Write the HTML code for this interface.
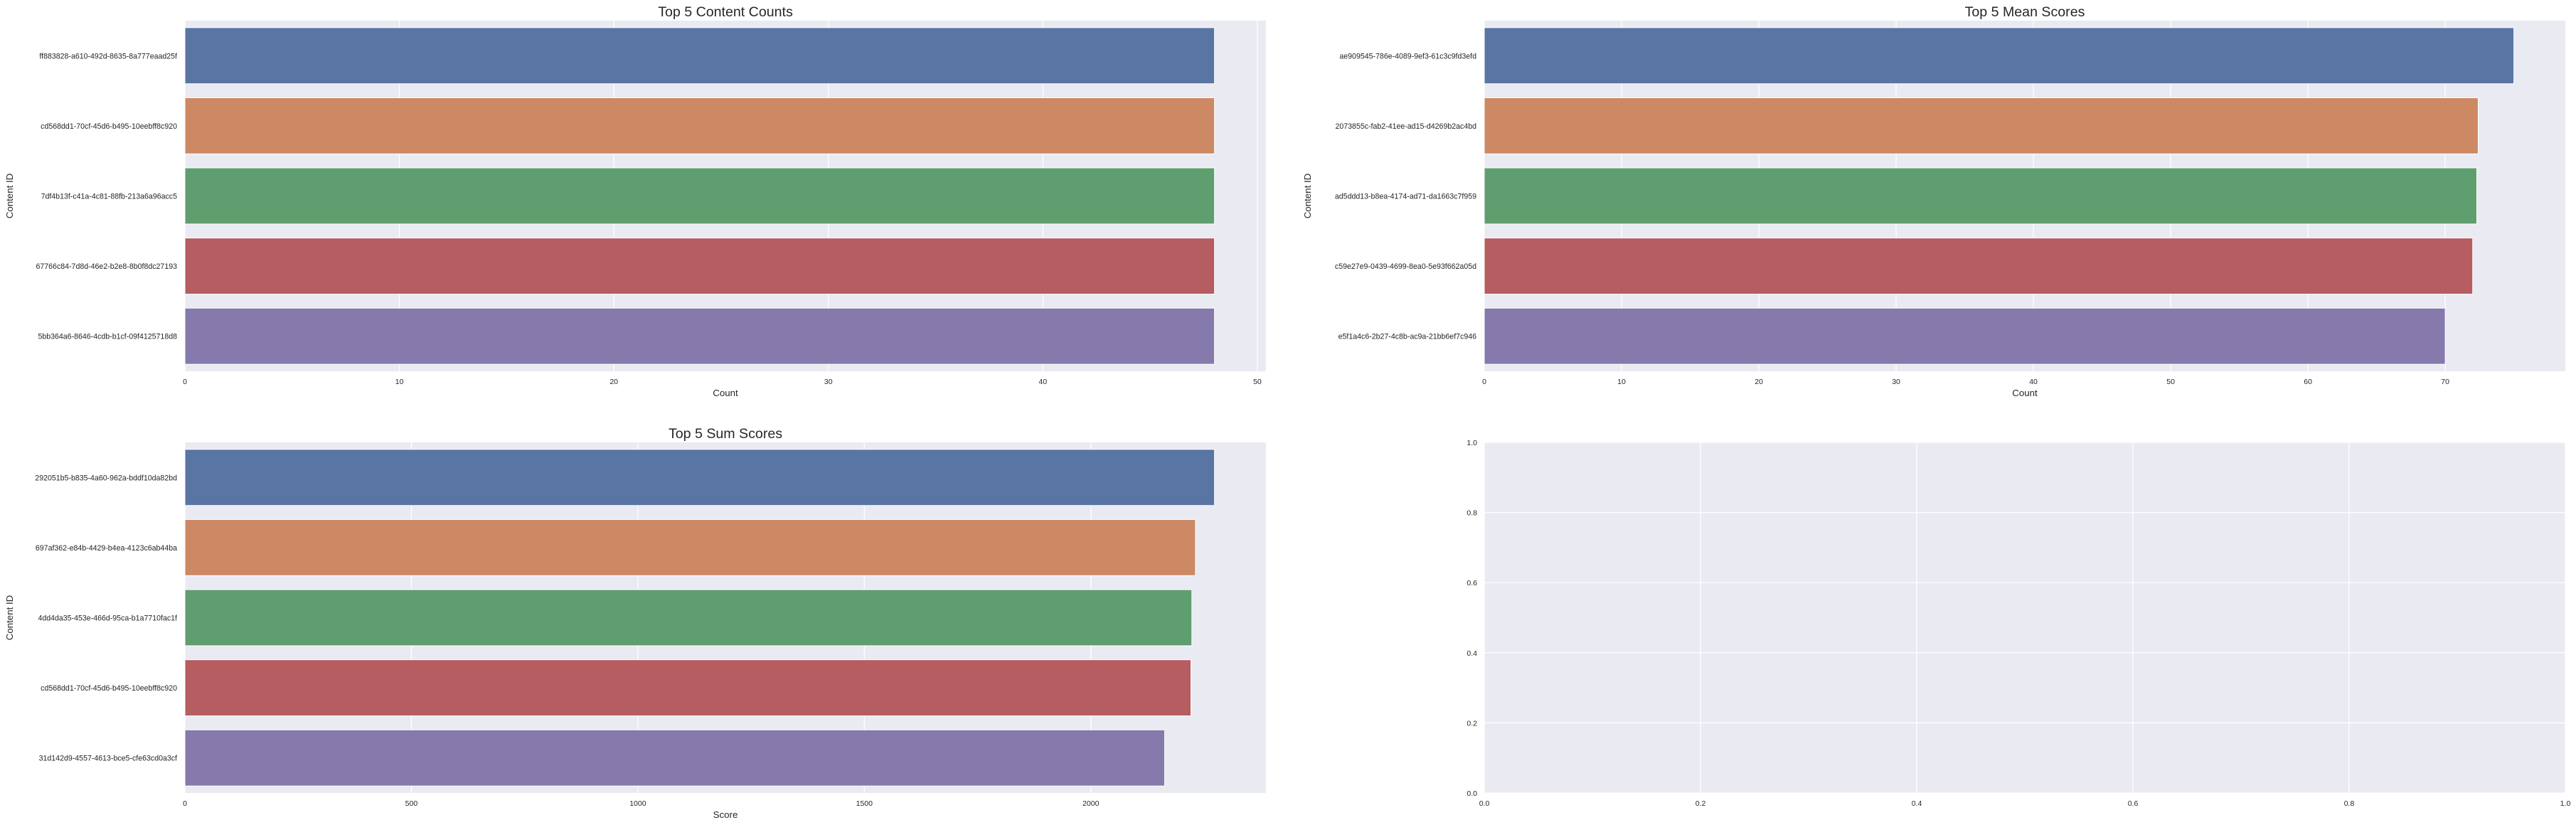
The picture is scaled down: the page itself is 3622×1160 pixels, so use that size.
<!DOCTYPE html>
<html><head><meta charset="utf-8"><style>
html,body{margin:0;padding:0;background:#fff;}
svg{display:block;font-family:"Liberation Sans",Arial,sans-serif;}
</style></head><body>
<svg id="fig" width="3622" height="1160" viewBox="0 0 3622 1160"></svg>
<script>
const countIds = ["ff883828-a610-492d-8635-8a777eaad25f","cd568dd1-70cf-45d6-b495-10eebff8c920","7df4b13f-c41a-4c81-88fb-213a6a96acc5","67766c84-7d8d-46e2-b2e8-8b0f8dc27193","5bb364a6-8646-4cdb-b1cf-09f4125718d8"];
const countValues = [48,48,48,48,48];
const countTicks = [0,10,20,30,40,50];
const meanIds = ["ae909545-786e-4089-9ef3-61c3c9fd3efd","2073855c-fab2-41ee-ad15-d4269b2ac4bd","ad5ddd13-b8ea-4174-ad71-da1663c7f959","c59e27e9-0439-4699-8ea0-5e93f662a05d","e5f1a4c6-2b27-4c8b-ac9a-21bb6ef7c946"];
const meanValues = [75.0,72.4,72.3,72.0,70.0];
const meanTicks = [0,10,20,30,40,50,60,70];
const sumIds = ["292051b5-b835-4a60-962a-bddf10da82bd","697af362-e84b-4429-b4ea-4123c6ab44ba","4dd4da35-453e-466d-95ca-b1a7710fac1f","cd568dd1-70cf-45d6-b495-10eebff8c920","31d142d9-4557-4613-bce5-cfe63cd0a3cf"];
const sumValues = [2273,2231,2223,2221,2163];
const sumTicks = [0,500,1000,1500,2000];
const emptyTicks = [0.0,0.2,0.4,0.6,0.8,1.0];
const colors = ["#5875a4","#cc8963","#5f9e6e","#b55d60","#857aab"];

const NS="http://www.w3.org/2000/svg";
const svg=document.getElementById('fig');
function mk(tag,attrs,parent){const e=document.createElementNS(NS,tag);for(const k in attrs)e.setAttribute(k,attrs[k]);(parent||svg).appendChild(e);return e;}

function barPanel(cfg){
  const g=mk('g',{});
  
  
  const {x0,x1,y0,y1}=cfg;
  const xmax=Math.max(...cfg.values)*1.05;
  const sx=v=>x0+(v/xmax)*(x1-x0);
  const band=(y1-y0)/cfg.ids.length;
  const bg=mk('rect',{x:x0,y:y0,width:x1-x0,height:y1-y0,fill:'#eaeaf2'},g);
  
  
  cfg.ticks.forEach(t=>{
    const x=sx(t);
    if(x>x1+0.5) return;
    const gl=mk('line',{x1:x,x2:x,y1:y0,y2:y1,stroke:'#fff','stroke-width':1.3},g);
    
    
    const tl=mk('text',{x:x,y:y1+18,'font-size':10.5,fill:'#262626','text-anchor':'middle'},g);
    tl.textContent=t;
    
    
  });
  cfg.ids.forEach((id,i)=>{
    const cy=y0+band*(i+0.5);
    const r=mk('rect',{x:x0,y:cy-band*0.4,width:sx(cfg.values[i])-x0,height:band*0.8,fill:colors[i],stroke:'#fff','stroke-width':1},g);
    
    
    const tl=mk('text',{x:x0-11,y:cy+4,'font-size':10.6,fill:'#262626','text-anchor':'end'},g);
    tl.textContent=id;
    
    
  });
  const t=mk('text',{x:(x0+x1)/2,y:y0-6,'font-size':19.6,fill:'#262626','text-anchor':'middle'},g);
  t.textContent=cfg.title;
  
  
  const xl=mk('text',{x:(x0+x1)/2,y:y1+35,'font-size':13.3,fill:'#262626','text-anchor':'middle'},g);
  xl.textContent=cfg.xlabel;
  
  
  const yx=cfg.ylabelX, yc=(y0+y1)/2;
  const yl=mk('text',{x:yx,y:yc,'font-size':13.3,fill:'#262626','text-anchor':'middle',transform:`rotate(-90 ${yx} ${yc})`},g);
  yl.textContent='Content ID';
  
  
}

barPanel({name:'content-counts-chart',title:'Top 5 Content Counts',xlabel:'Count',ids:countIds,values:countValues,ticks:countTicks,x0:260,x1:1780,y0:29,y1:522,ylabelX:18});
barPanel({name:'mean-scores-chart',title:'Top 5 Mean Scores',xlabel:'Count',ids:meanIds,values:meanValues,ticks:meanTicks,x0:2087,x1:3607,y0:29,y1:522,ylabelX:1843});
barPanel({name:'sum-scores-chart',title:'Top 5 Sum Scores',xlabel:'Score',ids:sumIds,values:sumValues,ticks:sumTicks,x0:260,x1:1780,y0:622,y1:1115,ylabelX:18});

(function(){
  const g=mk('g',{});
  
  
  const x0=2087,x1=3607,y0=622,y1=1115;
  const bg=mk('rect',{x:x0,y:y0,width:x1-x0,height:y1-y0,fill:'#eaeaf2'},g);
  
  
  emptyTicks.forEach(t=>{
    const x=x0+t*(x1-x0), y=y1-t*(y1-y0);
    const gx=mk('line',{x1:x,x2:x,y1:y0,y2:y1,stroke:'#fff','stroke-width':1.3},g);
    
    
    const gy=mk('line',{x1:x0,x2:x1,y1:y,y2:y,stroke:'#fff','stroke-width':1.3},g);
    
    
    const tx=mk('text',{x:x,y:y1+18,'font-size':10.5,fill:'#262626','text-anchor':'middle'},g);
    tx.textContent=t.toFixed(1);
    
    
    const ty=mk('text',{x:x0-10,y:y+4,'font-size':10.5,fill:'#262626','text-anchor':'end'},g);
    ty.textContent=t.toFixed(1);
    
    
  });
})();
</script>
</body></html>
